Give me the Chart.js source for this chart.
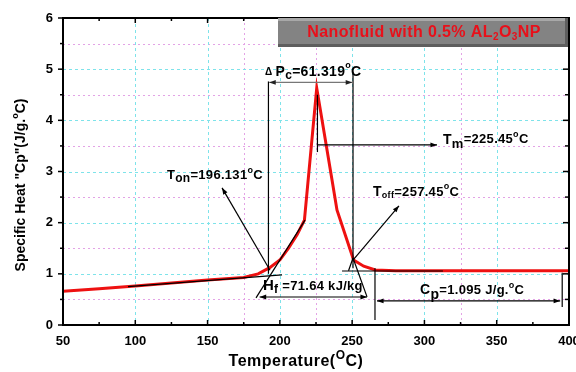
<!DOCTYPE html>
<html><head><meta charset="utf-8">
<script src="https://cdn.jsdelivr.net/npm/chart.js@4.4.1/dist/chart.umd.min.js"></script>
<style>html,body{margin:0;padding:0;background:#fff;overflow:hidden}canvas{display:block}</style>
</head><body>
<canvas id="c" width="576" height="372"></canvas>
<script>
// ---- data ----
const temperatures = [50, 75, 100, 125, 150, 175, 185, 193, 200, 206, 212, 217, 225.5, 236, 239.5, 251, 258, 266, 280, 300, 350, 400];
const specificHeat = [0.66, 0.71, 0.76, 0.82, 0.88, 0.93, 1.0, 1.12, 1.27, 1.5, 1.77, 2.05, 4.63, 2.85, 2.25, 1.27, 1.15, 1.075, 1.06, 1.06, 1.06, 1.06];
const xTickValues = [50, 100, 150, 200, 250, 300, 350, 400];
const yTickValues = [0, 1, 2, 3, 4, 5, 6];
const majorGridX = [100, 150, 200, 250, 300, 350];
const minorGridX = [175, 225, 325];
const majorGridY = [1, 2, 3, 4, 5];
const minorGridY = [0.5, 1.5, 2.5, 3.5, 4.5, 5.5];
const minorTickX = [75, 125, 175, 225, 275, 325, 375];
const minorTickY = [0.5, 1.5, 2.5, 3.5, 4.5, 5.5];

const FONT = '"Liberation Sans", Arial, sans-serif';

function richText(ctx, x, y, segs, align, spacing) {
  ctx.letterSpacing = (spacing || 0) + 'px';
  let w = 0;
  segs.forEach(g => { ctx.font = 'bold ' + g.s + 'px ' + FONT; w += ctx.measureText(g.t).width; });
  let cx = align === 'center' ? x - w / 2 : x;
  ctx.textBaseline = 'middle';
  ctx.textAlign = 'left';
  segs.forEach(g => {
    ctx.font = 'bold ' + g.s + 'px ' + FONT;
    ctx.fillText(g.t, cx, y + (g.dy || 0));
    cx += ctx.measureText(g.t).width;
  });
  ctx.letterSpacing = '0px';
}

function head(ctx, x1, y1, x2, y2, size) {
  const a = Math.atan2(y2 - y1, x2 - x1);
  ctx.beginPath();
  ctx.moveTo(x2, y2);
  ctx.lineTo(x2 - size * Math.cos(a - 0.35), y2 - size * Math.sin(a - 0.35));
  ctx.lineTo(x2 - size * Math.cos(a + 0.35), y2 - size * Math.sin(a + 0.35));
  ctx.closePath();
  ctx.fill();
}

function seg(ctx, x1, y1, x2, y2, endHead, startHead) {
  ctx.beginPath(); ctx.moveTo(x1, y1); ctx.lineTo(x2, y2); ctx.stroke();
  if (endHead) head(ctx, x1, y1, x2, y2, 7);
  if (startHead) head(ctx, x2, y2, x1, y1, 7);
}

const decor = {
  id: 'decor',
  beforeDatasetsDraw(chart) {
    const { ctx, chartArea: a, scales: { x, y } } = chart;
    ctx.save();
    ctx.lineWidth = 1;
    ctx.strokeStyle = '#e3a3e6';
    ctx.setLineDash([2, 3]);
    minorGridX.forEach(v => { const px = Math.round(x.getPixelForValue(v)) + 0.5; ctx.beginPath(); ctx.moveTo(px, a.top); ctx.lineTo(px, a.bottom); ctx.stroke(); });
    minorGridY.forEach(v => { const py = Math.round(y.getPixelForValue(v)) + 0.5; ctx.beginPath(); ctx.moveTo(a.left, py); ctx.lineTo(a.right, py); ctx.stroke(); });
    ctx.strokeStyle = '#7ee3ea';
    ctx.setLineDash([3, 3]);
    majorGridX.forEach(v => { const px = Math.round(x.getPixelForValue(v)) + 0.5; ctx.beginPath(); ctx.moveTo(px, a.top); ctx.lineTo(px, a.bottom); ctx.stroke(); });
    majorGridY.forEach(v => { const py = Math.round(y.getPixelForValue(v)) + 0.5; ctx.beginPath(); ctx.moveTo(a.left, py); ctx.lineTo(a.right, py); ctx.stroke(); });
    ctx.restore();
  },
  afterDatasetsDraw(chart) {
    const { ctx, chartArea: a, scales: { x, y } } = chart;
    const X = v => x.getPixelForValue(v), Y = v => y.getPixelForValue(v);
    ctx.save();
    // frame
    ctx.strokeStyle = '#000'; ctx.lineWidth = 2; ctx.setLineDash([]);
    ctx.strokeRect(a.left, a.top, a.right - a.left, a.bottom - a.top);
    ctx.lineWidth = 1.5;
    // ticks
    xTickValues.forEach(v => { const px = X(v);
      ctx.beginPath(); ctx.moveTo(px, a.bottom); ctx.lineTo(px, a.bottom - 5); ctx.stroke();
      ctx.beginPath(); ctx.moveTo(px, a.top); ctx.lineTo(px, a.top + 5); ctx.stroke(); });
    minorTickX.forEach(v => { const px = X(v);
      ctx.beginPath(); ctx.moveTo(px, a.bottom); ctx.lineTo(px, a.bottom - 3); ctx.stroke();
      ctx.beginPath(); ctx.moveTo(px, a.top); ctx.lineTo(px, a.top + 3); ctx.stroke(); });
    yTickValues.forEach(v => { const py = Y(v);
      ctx.beginPath(); ctx.moveTo(a.left, py); ctx.lineTo(a.left - 5, py); ctx.stroke();
      ctx.beginPath(); ctx.moveTo(a.right, py); ctx.lineTo(a.right - 6, py); ctx.stroke(); });
    minorTickY.forEach(v => { const py = Y(v);
      ctx.beginPath(); ctx.moveTo(a.left, py); ctx.lineTo(a.left - 3, py); ctx.stroke();
      ctx.beginPath(); ctx.moveTo(a.right, py); ctx.lineTo(a.right - 4, py); ctx.stroke(); });

    // annotation lines (data coordinates)
    ctx.lineWidth = 1.2; ctx.strokeStyle = '#000'; ctx.fillStyle = '#000';
    seg(ctx, X(192.1), Y(4.76), X(192.1), Y(1.0));
    seg(ctx, X(250.6), Y(4.95), X(250.6), Y(1.11));
    ctx.strokeStyle = '#777'; ctx.fillStyle = '#222';
    seg(ctx, X(192.6), Y(4.74), X(250.1), Y(4.74), true, true);
    ctx.strokeStyle = '#000'; ctx.fillStyle = '#000';
    // Tm
    seg(ctx, X(226), Y(4.50), X(226), Y(3.38));
    seg(ctx, X(226), Y(3.52), X(308.7), Y(3.52), true);
    // Ton
    seg(ctx, X(193.2), Y(1.07), X(160), Y(2.68), true);
    // Toff
    seg(ctx, X(250.6), Y(1.27), X(282.4), Y(2.33), true);
    seg(ctx, X(250.6), Y(1.31), X(260.3), Y(0.55));
    seg(ctx, X(247.5), Y(1.06), X(250.6), Y(1.31));
    // tangents
    seg(ctx, X(183.5), Y(0.53), X(217.4), Y(2.05));
    seg(ctx, X(95), Y(0.75), X(201.5), Y(0.98));
    seg(ctx, X(243), Y(1.055), X(312.8), Y(1.055));
    // Hf arrow
    seg(ctx, X(186), Y(0.547), X(260.3), Y(0.547), true, true);
    // Cp bracket
    seg(ctx, X(265.8), Y(1.11), X(265.8), Y(0.10));
    seg(ctx, X(395.3), Y(1.02), X(395.3), Y(0.35));
    seg(ctx, X(267.2), Y(0.47), X(393.9), Y(0.47), true, true);

    // annotation texts
    ctx.fillStyle = '#000';
    richText(ctx, X(189.7), Y(4.95), [{t:'\u0394 ', s:10, dy:1}, {t:'P', s:14}, {t:'c', s:12, dy:4}, {t:'=61.319', s:14}, {t:'o', s:9, dy:-6}, {t:'C', s:14}], 'left', 0.3);
    richText(ctx, X(312.8), Y(3.62), [{t:'T', s:14}, {t:'m', s:13, dy:5}, {t:'=225.45', s:13}, {t:'o', s:9, dy:-5}, {t:'C', s:13}], 'left', 0.3);
    richText(ctx, X(121.9), Y(2.93), [{t:'T', s:13}, {t:'on', s:12, dy:4}, {t:'=196.131', s:13}, {t:'o', s:9, dy:-5}, {t:'C', s:13}], 'left', 0.3);
    richText(ctx, X(264.4), Y(2.60), [{t:'T', s:14}, {t:'off', s:9, dy:4}, {t:'=257.45', s:13}, {t:'o', s:9, dy:-5}, {t:'C', s:13}], 'left', 0.3);
    richText(ctx, X(188.3), Y(0.76), [{t:'H', s:15}, {t:'f', s:12, dy:4}, {t:' =71.64 kJ/kg', s:13}], 'left', 0.3);
    richText(ctx, X(297), Y(0.68), [{t:'C', s:14}, {t:'p', s:14, dy:5}, {t:'=1.095 J/g.', s:13}, {t:'o', s:9, dy:-5}, {t:'C', s:13}], 'left', 0.3);

    // title box
    const bx = a.right - 291, by = a.top, bw = 290, bh = 29;
    ctx.fillStyle = '#838383'; ctx.fillRect(bx, by, bw, bh);
    ctx.fillStyle = '#a8a8a8'; ctx.fillRect(bx, by, bw, 3);
    ctx.fillStyle = '#5e5e5e'; ctx.fillRect(bx, by + bh - 3, bw, 3); ctx.fillRect(bx + bw - 3, by, 3, bh);
    ctx.fillStyle = '#e8101a';
    richText(ctx, bx + bw / 2 + 1, by + bh / 2, [{t:'Nanofluid with 0.5% AL', s:16}, {t:'2', s:10, dy:5}, {t:'O', s:16}, {t:'3', s:10, dy:5}, {t:'NP', s:16}], 'center', 0.4);

    // axis titles
    ctx.fillStyle = '#000';
    richText(ctx, 296, 362, [{t:'Temperature(', s:16}, {t:'O', s:12, dy:-6}, {t:'C)', s:16}], 'center', 0.5);
    ctx.save();
    ctx.translate(21, 185);
    ctx.rotate(-Math.PI / 2);
    richText(ctx, 0, 0, [{t:'Specific Heat "Cp"(J/g.', s:14}, {t:'o', s:9, dy:-5}, {t:'C)', s:14}], 'center');
    ctx.restore();
    ctx.restore();
  }
};

new Chart(document.getElementById('c'), {
  type: 'line',
  data: { datasets: [{ data: temperatures.map((t, i) => ({ x: t, y: specificHeat[i] })), borderColor: '#ee1111', borderWidth: 3, pointRadius: 0, tension: 0, fill: false }] },
  options: {
    responsive: false, animation: false,
    layout: { padding: { top: 18, right: 7, left: 0, bottom: 0 } },
    plugins: { legend: { display: false }, tooltip: { enabled: false } },
    scales: {
      x: { type: 'linear', min: 50, max: 400,
        afterBuildTicks: s => { s.ticks = xTickValues.map(v => ({ value: v })); },
        ticks: { color: '#000', font: { family: FONT, size: 13, weight: 'bold' }, padding: 9, maxRotation: 0, autoSkip: false },
        grid: { display: false, drawTicks: false }, border: { display: false },
        afterFit: s => { s.height = 47; s.paddingLeft = 0; s.paddingRight = 0; } },
      y: { min: 0, max: 6,
        afterBuildTicks: s => { s.ticks = yTickValues.map(v => ({ value: v })); },
        ticks: { color: '#000', font: { family: FONT, size: 13, weight: 'bold' }, padding: 10 },
        grid: { display: false, drawTicks: false }, border: { display: false },
        afterFit: s => { s.width = 63; s.paddingTop = 0; s.paddingBottom = 0; } }
    }
  },
  plugins: [decor]
});
</script>
</body></html>
